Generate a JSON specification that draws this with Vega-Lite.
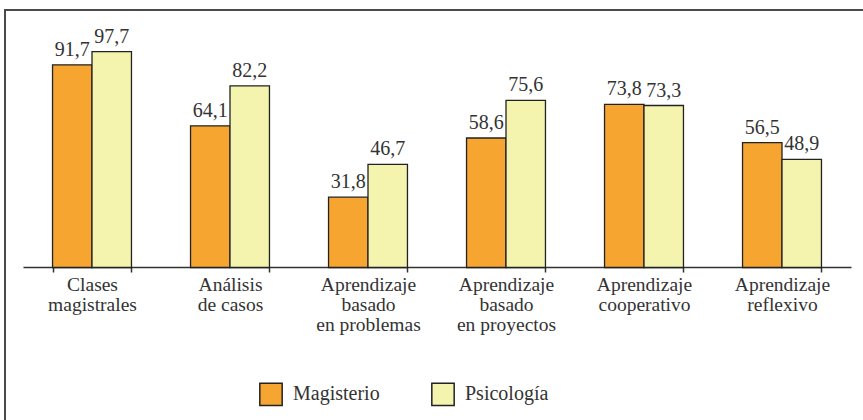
{
  "$schema": "https://vega.github.io/schema/vega-lite/v6.json",
  "autosize": {"type": "none"},
  "padding": {"left": 5, "top": 10, "right": 0, "bottom": 0},
  "width": 870,
  "height": 430,
  "background": "white",
  "config": {
    "view": {"stroke": "#4a4a4a", "strokeWidth": 2},
    "font": "Liberation Serif"
  },
  "data": {
    "values": [
      {"metodo": "Clases|magistrales", "grupo": "Magisterio", "valor": 91.7, "etiqueta": "91,7"},
      {"metodo": "Clases|magistrales", "grupo": "Psicología", "valor": 97.7, "etiqueta": "97,7"},
      {"metodo": "Análisis|de casos", "grupo": "Magisterio", "valor": 64.1, "etiqueta": "64,1"},
      {"metodo": "Análisis|de casos", "grupo": "Psicología", "valor": 82.2, "etiqueta": "82,2"},
      {"metodo": "Aprendizaje|basado|en problemas", "grupo": "Magisterio", "valor": 31.8, "etiqueta": "31,8"},
      {"metodo": "Aprendizaje|basado|en problemas", "grupo": "Psicología", "valor": 46.7, "etiqueta": "46,7"},
      {"metodo": "Aprendizaje|basado|en proyectos", "grupo": "Magisterio", "valor": 58.6, "etiqueta": "58,6"},
      {"metodo": "Aprendizaje|basado|en proyectos", "grupo": "Psicología", "valor": 75.6, "etiqueta": "75,6"},
      {"metodo": "Aprendizaje|cooperativo", "grupo": "Magisterio", "valor": 73.8, "etiqueta": "73,8"},
      {"metodo": "Aprendizaje|cooperativo", "grupo": "Psicología", "valor": 73.3, "etiqueta": "73,3"},
      {"metodo": "Aprendizaje|reflexivo", "grupo": "Magisterio", "valor": 56.5, "etiqueta": "56,5"},
      {"metodo": "Aprendizaje|reflexivo", "grupo": "Psicología", "valor": 48.9, "etiqueta": "48,9"}
    ]
  },
  "encoding": {
    "x": {
      "field": "metodo",
      "type": "nominal",
      "sort": null,
      "scale": {"range": [18, 846], "paddingInner": 0.428, "paddingOuter": 0.214},
      "axis": {
        "title": null,
        "offset": -173,
        "labelAngle": 0,
        "labelExpr": "split(datum.label, '|')",
        "labelFont": "Liberation Serif",
        "labelFontSize": 19.5,
        "labelColor": "#333333",
        "labelLineHeight": 20,
        "labelPadding": 3,
        "labelLimit": 0,
        "labelBaseline": "top",
        "tickBand": "extent",
        "tickSize": 5,
        "tickColor": "#333333",
        "tickWidth": 1.5,
        "domainColor": "#333333",
        "domainWidth": 1.5,
        "grid": false
      }
    },
    "xOffset": {"field": "grupo", "type": "nominal", "sort": ["Magisterio", "Psicología"], "scale": {"paddingInner": 0}},
    "y": {
      "field": "valor",
      "type": "quantitative",
      "scale": {"domain": [0, 100], "range": [257.5, 36.5], "nice": false},
      "axis": null
    }
  },
  "layer": [
    {
      "mark": {"type": "bar", "stroke": "#222222", "strokeWidth": 1.3},
      "encoding": {
        "color": {
          "field": "grupo",
          "type": "nominal",
          "sort": ["Magisterio", "Psicología"],
          "scale": {"domain": ["Magisterio", "Psicología"], "range": ["#F6A530", "#F5F4AE"]},
          "legend": {
            "title": null,
            "orient": "none",
            "direction": "horizontal",
            "legendX": 254,
            "legendY": 372,
            "symbolType": "square",
            "symbolSize": 500,
            "symbolStrokeColor": "#222222",
            "symbolStrokeWidth": 1.5,
            "symbolOpacity": 1,
            "labelFont": "Liberation Serif",
            "labelFontSize": 20,
            "labelColor": "#333333",
            "labelOffset": 10,
            "columnPadding": 48,
            "labelLimit": 0
          }
        }
      }
    },
    {
      "mark": {"type": "text", "baseline": "alphabetic", "dy": -9, "fontSize": 20, "font": "Liberation Serif", "color": "#333333"},
      "encoding": {
        "text": {"field": "etiqueta", "type": "nominal"}
      }
    }
  ]
}
